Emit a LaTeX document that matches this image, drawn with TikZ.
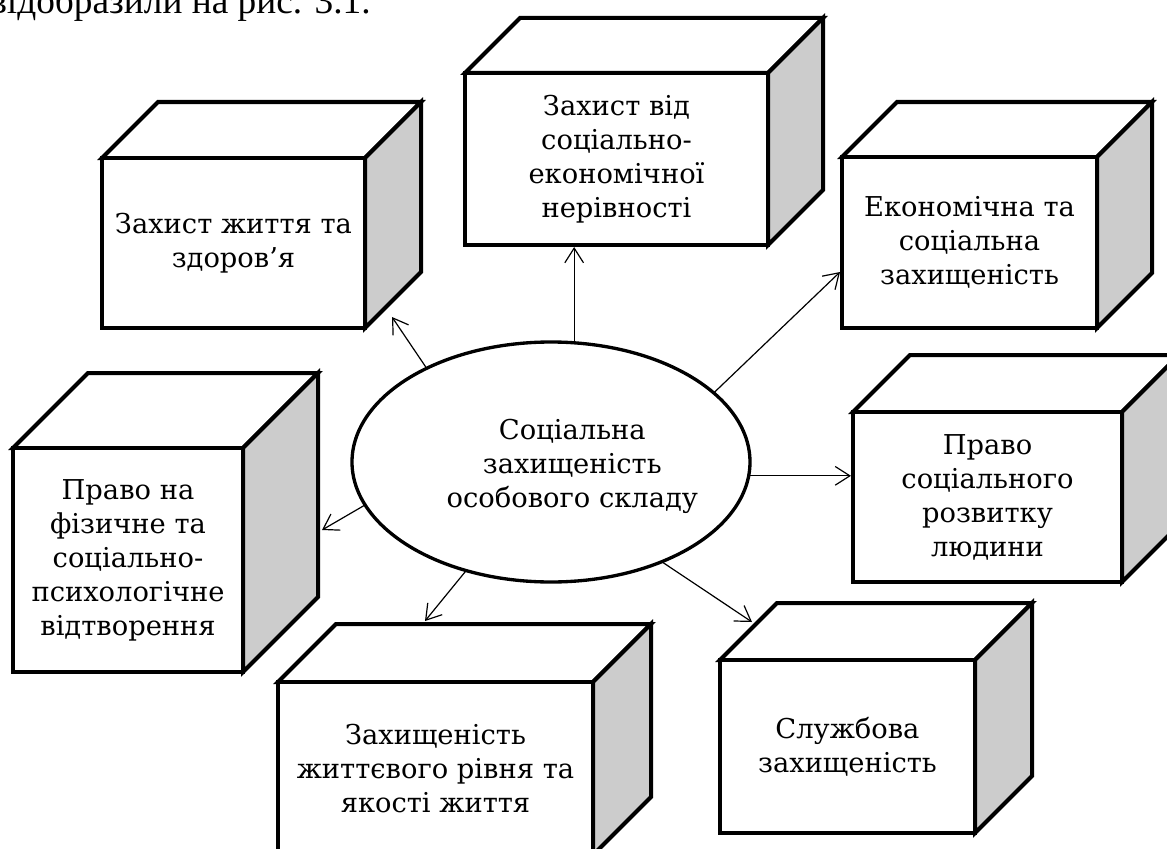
\documentclass[tikz,border=0pt]{standalone}
\usepackage{fontspec}
\setmainfont{DejaVu Serif}
\newfontfamily\pagefont{Liberation Serif}
\usetikzlibrary{arrows.meta,shapes.geometric}

\tikzset{
  cubeface/.style={line width=3pt, line join=miter},
  cubetop/.style={cubeface, fill=white},
  cubeside/.style={cubeface, fill=black!20},
  front/.style={draw, fill=white, line width=3pt, outer sep=0pt, inner sep=0pt,
    align=center, font=\fontsize{20.5}{25.5}\selectfont},
  hub/.style={ellipse, draw, fill=white, line width=2.5pt, outer sep=0pt,
    minimum width=298.5pt, minimum height=180pt},
  link/.style={line width=0.9pt, -{Straight Barb[length=11pt,width=14pt]}}
}

% name, x1, y1, x2, y2, depth, text
\newcommand{\boxcube}[7]{%
  \filldraw[cubetop] (#2,#3) -- ({#2+#6},{#3-#6}) -- ({#4+#6},{#3-#6}) -- (#4,#3) -- cycle;
  \filldraw[cubeside] (#4,#3) -- ({#4+#6},{#3-#6}) -- ({#4+#6},{#5-#6}) -- (#4,#5) -- cycle;
  \node[front, minimum width={(#4-#2)*0.75pt}, minimum height={(#5-#3)*0.75pt}]
    (#1) at ({(#2+#4)/2},{(#3+#5)/2}) {#7};
}

\begin{document}
\begin{tikzpicture}[x=0.75pt, y=-0.75pt]
  \useasboundingbox (0,0) rectangle (1167,849);
  \clip (0,0) rectangle (1167,849);

  \node[anchor=base west, inner sep=0, font=\pagefont\fontsize{28}{33}\selectfont]
    (prevline) at (-11,14) {відобразили на рис. 3.1.};

  % boxes
  \boxcube{life}{102}{158}{365}{328}{56}{Захист життя та\\здоров’я}
  \boxcube{ineq}{465}{73}{768}{245}{55}{Захист від\\соціально-\\економічної\\нерівності}
  \boxcube{econ}{842}{157}{1097}{328}{55}{Економічна та\\соціальна\\захищеність}
  \boxcube{phys}{13}{448}{243}{672}{75}{Право на\\фізичне та\\соціально-\\психологічне\\відтворення}
  \boxcube{devel}{853}{412}{1122}{582}{57}{Право\\соціального\\розвитку\\людини}
  \boxcube{level}{278}{682}{593}{855}{58}{Захищеність\\життєвого рівня та\\якості життя}
  \boxcube{serv}{720}{660}{975}{833}{57}{Службова\\захищеність}

  % centre
  \node[hub, label={[xshift=16pt, yshift=-3pt, align=center,
      font=\fontsize{20.5}{25.5}\selectfont]center:Соціальна\\захищеність\\особового складу}]
    (soc) at (551,462) {};

  \coordinate (tlife) at (392,317);
  \coordinate (tecon) at (840,272);
  \coordinate (tserv) at (752,622);
  \coordinate (tlevel) at (425,621);
  \coordinate (tphys) at (322,530);

  \draw[link] (soc.143) -- (tlife);
  \draw[link, shorten >=1.5pt] (soc.79.5) -- (soc.79.5 |- ineq.south);
  \draw[link] (soc.23) -- (tecon);
  \draw[link, shorten >=1.5pt] (soc.356) -- (soc.356 -| devel.west);
  \draw[link] (soc.-42.5) -- (tserv);
  \draw[link] (soc.232) -- (tlevel);
  \draw[link] (soc.193) -- (tphys);
\end{tikzpicture}
\end{document}
